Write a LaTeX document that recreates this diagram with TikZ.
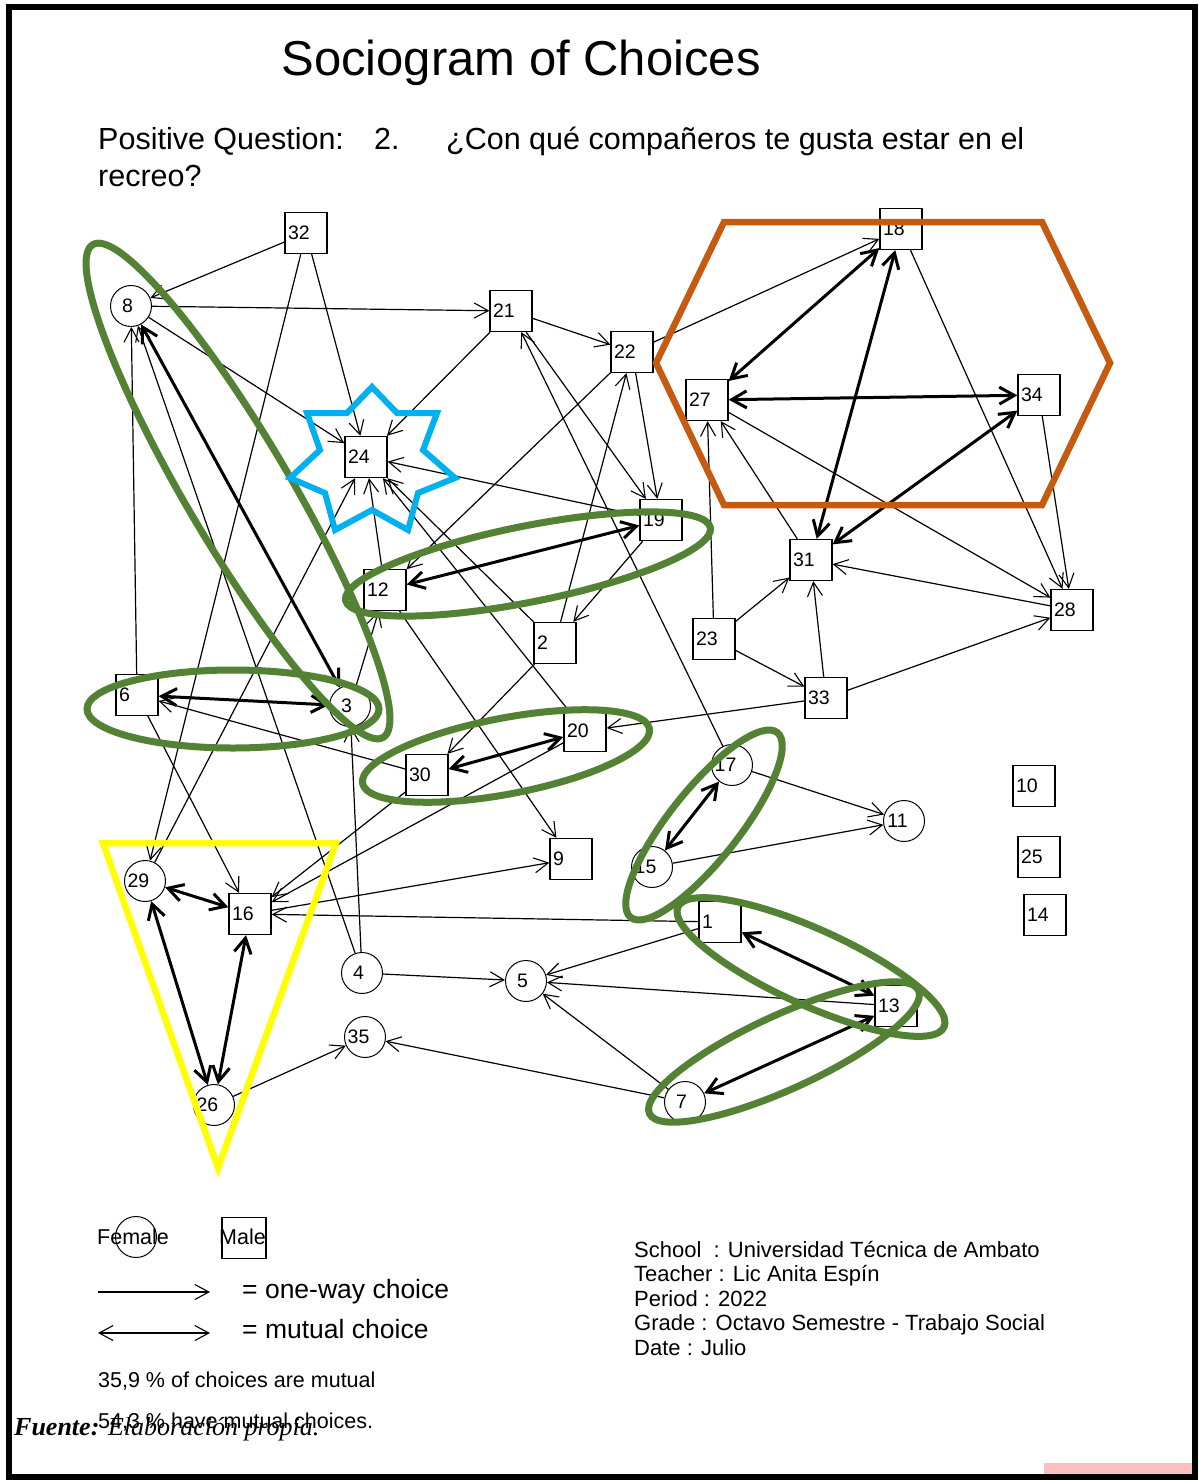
\documentclass[tikz,border=0pt]{standalone}
\usepackage{fontspec}
\setmainfont{Liberation Sans}
\newfontfamily\serifT{Liberation Serif}
\usetikzlibrary{arrows.meta,shapes.geometric}
\definecolor{grn}{HTML}{548235}
\definecolor{org}{HTML}{C55A11}
\definecolor{sky}{HTML}{00B0F0}
\definecolor{yel}{HTML}{FFFF00}
\definecolor{pinkbar}{HTML}{FFBFBF}
\newcommand{\fl}[1]{\makebox[30pt]{\hfill#1\hspace{13pt}}}
\begin{document}
\begin{tikzpicture}[x=1pt,y=-1pt,
 male/.style={draw, line width=1.3pt, rectangle, minimum width=42pt, minimum height=41pt, inner sep=0pt, text width=36pt, align=left, font=\fontsize{19.5}{19.5}\selectfont},
 female/.style={draw, line width=1pt, circle, minimum size=41pt, inner sep=0pt, font=\fontsize{19.5}{19.5}\selectfont},
 one/.style={line width=1.2pt, -{Straight Barb[length=14pt,width=15pt,line width=1.1pt]}},
 mut/.style={line width=3pt, {Straight Barb[length=15pt,width=17pt,line width=3pt]}-{Straight Barb[length=15pt,width=17pt,line width=3pt]}},
 two/.style={line width=1.2pt, {Straight Barb[length=14pt,width=15pt,line width=1.1pt]}-{Straight Barb[length=14pt,width=15pt,line width=1.1pt]}},
 gell/.style={draw=grn, line width=7pt, ellipse, inner sep=0pt},
 txt/.style={inner sep=0pt, anchor=base west},
]
\useasboundingbox (0,0) rectangle (1199,1480);
\fill[white] (0,0) rectangle (1199,1480);

% nodes
\node[male] (n32) at (306,233) {32};
\node[female] (n8) at (131,306) {\fl{8}};
\node[male] (n21) at (511,311) {21};
\node[male] (n22) at (632,352) {22};
\node[male] (n18) at (901,229) {18};
\node[male] (n24) at (366,457) {24};
\node[male] (n27) at (707,400) {27};
\node[male] (n34) at (1039,395) {34};
\node[male] (n19) at (661,520) {19};
\node[male] (n31) at (811,560) {31};
\node[male] (n12) at (385,590) {12};
\node[male] (n2) at (555,643) {2};
\node[male] (n28) at (1072,610) {28};
\node[male] (n23) at (714,639) {23};
\node[male] (n6) at (137,695) {6};
\node[female] (n3) at (350,706) {\fl{3}};
\node[male] (n33) at (826,698) {33};
\node[male] (n20) at (585,731) {20};
\node[male] (n30) at (427,775) {30};
\node[female] (n17) at (732,765) {\fl{17}};
\node[female] (n11) at (904,821) {\fl{11}};
\node[male] (n10) at (1034,786) {10};
\node[male] (n25) at (1039,857) {25};
\node[male] (n14) at (1045,915) {14};
\node[male] (n9) at (571,859) {9};
\node[female] (n15) at (652,867) {\fl{15}};
\node[female] (n29) at (145,881) {\fl{29}};
\node[male] (n16) at (250,914) {16};
\node[male] (n1) at (720,922) {1};
\node[female] (n4) at (362,973) {\fl{4}};
\node[female] (n5) at (526,981) {\fl{5}};
\node[male] (n13) at (896,1006) {13};
\node[female] (n7) at (685,1102) {\fl{7}};
\node[female] (n26) at (214,1105) {\fl{26}};
\node[female] (n35) at (365,1037) {\fl{35}};

% mutual choices
\foreach \a/\b in {8/3, 6/3, 12/19, 30/20, 17/15, 29/16, 29/26, 16/26, 1/13, 13/7, 18/27, 18/31, 27/34, 34/31}
  \draw[mut] (n\a) -- (n\b);

% one-way choices
\foreach \a/\b in {32/8, 32/24, 32/29, 8/21, 8/24, 6/8, 4/8, 21/24, 21/22, 21/19, 17/21,
  22/18, 22/19, 22/12, 2/22, 19/24, 19/2, 12/24, 29/24, 20/24, 2/24, 12/9, 2/30, 4/3, 3/12,
  6/16, 30/16, 20/16, 16/9, 1/16, 30/6, 4/5, 1/5, 13/5, 7/5, 7/35, 26/35, 17/11, 15/11,
  33/20, 23/27, 31/27, 23/31, 23/33, 33/31, 28/31, 33/28, 18/28, 34/28, 27/28}
  \draw[one] (n\a) -- (n\b);

% highlight shapes
\node[gell, minimum width=572pt, minimum height=104pt, rotate=-59.5] (e1) at (238,491) {};
\node[gell, minimum width=372pt, minimum height=76pt, rotate=11.3] (e2) at (528,564) {};
\node[gell, minimum width=292pt, minimum height=78pt] (e3) at (233,709) {};
\node[gell, minimum width=292pt, minimum height=76pt, rotate=10.8] (e4) at (506,756) {};
\node[gell, minimum width=236pt, minimum height=70pt, rotate=51.6] (e5) at (704,825) {};
\node[gell, minimum width=292pt, minimum height=76pt, rotate=-24.3] (e6) at (811,967) {};
\node[gell, minimum width=296pt, minimum height=74pt, rotate=24.6] (e7) at (784,1052) {};
\draw[org, line width=6.5pt, line join=miter] (724,222) -- (1042,222) -- (1110,363) -- (1042,505) -- (724,505) -- (656,363) -- cycle;
\draw[sky, line width=6pt, line join=miter] (372,387) -- (397,413) -- (437,413) -- (423,450) -- (455,478) -- (418,493) -- (408,530) -- (372,510) -- (335,530) -- (325,493) -- (290,478) -- (320,450) -- (307,413) -- (347,413) -- cycle;
\draw[yel, line width=6.5pt, line join=miter] (103,843) -- (336,843) -- (218,1168) -- cycle;

% titles
\node[inner sep=0pt, anchor=base, font=\fontsize{49}{49}\selectfont] (title) at (521,75) {Sociogram of Choices};
\node[txt, font=\fontsize{30.5}{30.5}\selectfont] (q1) at (98,149) {Positive Question:};
\node[txt, font=\fontsize{30.5}{30.5}\selectfont] (q2) at (374,149) {2.};
\node[txt, font=\fontsize{30.5}{30.5}\selectfont] (q3) at (446,149) {¿Con qué compañeros te gusta estar en el};
\node[txt, font=\fontsize{30.5}{30.5}\selectfont] (q4) at (98,186) {recreo?};

% legend
\node[draw, circle, line width=1pt, minimum size=41pt, inner sep=0pt] (lf) at (136,1237) {};
\node[draw, rectangle, line width=1.3pt, minimum width=44pt, minimum height=41pt, inner sep=0pt] (lm) at (244,1238) {};
\node[txt, font=\fontsize{21.5}{21.5}\selectfont] (lft) at (97,1244) {Female};
\node[txt, font=\fontsize{21.5}{21.5}\selectfont] (lmt) at (219,1244) {Male};
\coordinate (a1) at (98,1292);
\coordinate (a2) at (210,1292);
\coordinate (b1) at (98,1333);
\coordinate (b2) at (210,1333);
\draw[one] (a1) -- (a2);
\draw[two] (b1) -- (b2);
\node[txt, font=\fontsize{26.5}{26.5}\selectfont] (l1) at (242,1298) {= one-way choice};
\node[txt, font=\fontsize{26.5}{26.5}\selectfont] (l2) at (242,1338) {= mutual choice};
\node[txt, font=\fontsize{21.5}{21.5}\selectfont] (s1) at (98,1387) {35,9 \% of choices are mutual};
\node[txt, font=\fontsize{21.5}{21.5}\selectfont] (s2) at (98,1428) {54,3 \% have mutual choices.};
\node[txt, font=\serifT\fontsize{26}{26}\selectfont] (src) at (14,1435) {\textbf{\textit{Fuente:}} \textit{Elaboración propia.}};

% info
\node[txt, font=\fontsize{22}{22}\selectfont] (i1) at (634,1257) {School\ \ : Universidad Técnica de Ambato};
\node[txt, font=\fontsize{22}{22}\selectfont] (i2) at (634,1281) {Teacher : Lic Anita Espín};
\node[txt, font=\fontsize{22}{22}\selectfont] (i3) at (634,1306) {Period : 2022};
\node[txt, font=\fontsize{22}{22}\selectfont] (i4) at (634,1330) {Grade : Octavo Semestre - Trabajo Social};
\node[txt, font=\fontsize{22}{22}\selectfont] (i5) at (634,1355) {Date : Julio};

% frame
\fill[pinkbar] (1044,1463) rectangle (1192,1477);
\draw[line width=6pt] (9,7) rectangle (1195,1477);
\end{tikzpicture}
\end{document}
